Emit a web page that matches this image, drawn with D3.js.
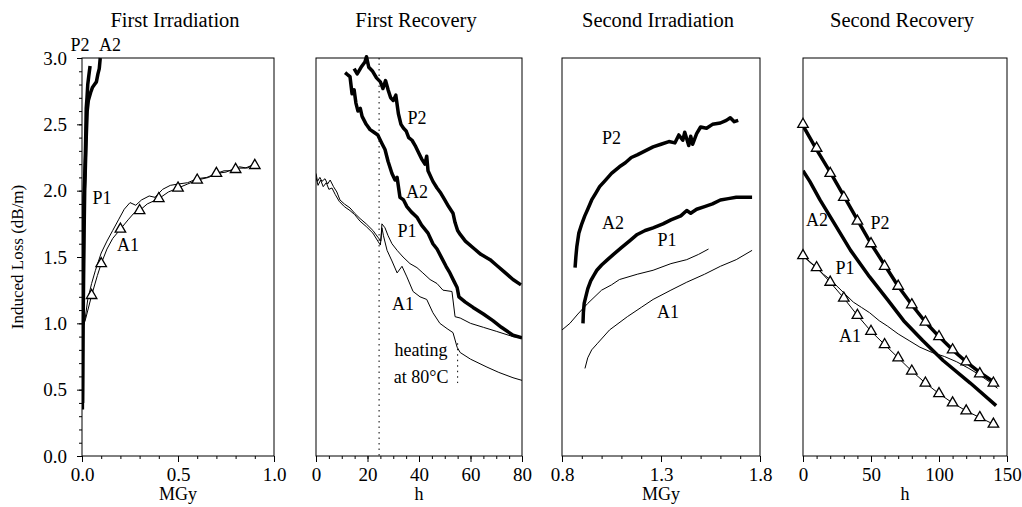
<!DOCTYPE html>
<html>
<head>
<meta charset="utf-8">
<script src="https://cdn.jsdelivr.net/npm/d3@7"></script>
<style>
  body { margin: 0; background: #fff; }
  svg text { font-family: "Liberation Serif", "Times New Roman", serif; fill: #000; }
</style>
</head>
<body>
<div id="chart"></div>
<script>
// induced loss, 4 panels (irradiation / recovery)

const panelTitles = ["First Irradiation", "First Recovery", "Second Irradiation", "Second Recovery"];
const xUnits = ["MGy", "h", "MGy", "h"];
const xDomains = [[0, 1], [0, 80], [0.8, 1.8], [0, 150]];
const xMajorTicks = [[0, 0.5, 1.0], [0, 20, 40, 60, 80], [0.8, 1.3, 1.8], [0, 50, 100, 150]];
const xMinorSteps = [0.1, 5, 0.1, 10];
const yTicks = [0, 0.5, 1.0, 1.5, 2.0, 2.5, 3.0];

// first irradiation (MGy, dB/m)
const fiP2 = [[0.002,0.35],[0.003,0.7],[0.004,1.0],[0.006,1.4],[0.008,1.7],[0.01,1.95],[0.014,2.1],[0.017,2.25],[0.02,2.45],[0.022,2.62],[0.026,2.7],[0.03,2.8],[0.035,2.86],[0.042,2.94]];
const fiA2 = [[0.003,0.4],[0.005,0.9],[0.008,1.3],[0.011,1.7],[0.014,2.0],[0.018,2.2],[0.022,2.4],[0.027,2.6],[0.033,2.68],[0.045,2.74],[0.055,2.78],[0.065,2.8],[0.075,2.82],[0.083,2.88],[0.09,2.92],[0.095,3.0]];
const fiP1 = [[0,0.95],[0.015,1.02],[0.03,1.18],[0.05,1.3],[0.07,1.4],[0.1,1.53],[0.13,1.62],[0.16,1.7],[0.19,1.78],[0.22,1.86],[0.25,1.91],[0.28,1.89],[0.31,1.93],[0.35,1.96],[0.38,1.95],[0.42,2.01],[0.46,2.04],[0.5,2.05],[0.55,2.06],[0.6,2.09],[0.65,2.1],[0.7,2.13],[0.74,2.15],[0.78,2.15],[0.82,2.18],[0.86,2.17],[0.9,2.2]];
const fiA1 = [[0,0.95],[0.02,1.04],[0.05,1.21],[0.08,1.36],[0.1,1.45],[0.13,1.56],[0.16,1.64],[0.2,1.71],[0.24,1.78],[0.27,1.83],[0.3,1.85],[0.34,1.9],[0.4,1.94],[0.45,1.99],[0.5,2.02],[0.55,2.05],[0.6,2.08],[0.66,2.1],[0.7,2.13],[0.75,2.14],[0.8,2.17],[0.85,2.17],[0.9,2.2]];
const fiA1Marks = [[0.05,1.21],[0.1,1.45],[0.2,1.71],[0.3,1.85],[0.4,1.94],[0.5,2.02],[0.6,2.08],[0.7,2.13],[0.8,2.16],[0.9,2.19]];

// first recovery (h, dB/m)
const frP2 = [[14.8,2.92],[16,2.88],[17.5,2.93],[19,2.97],[19.6,3.01],[20.5,2.93],[22,2.9],[23.5,2.85],[25,2.82],[26,2.77],[27,2.83],[28,2.76],[29,2.7],[30,2.68],[31,2.72],[32,2.58],[33,2.5],[34,2.47],[35,2.45],[36,2.4],[37.3,2.38],[38.5,2.34],[40,2.28],[41,2.24],[42.3,2.2],[43,2.26],[43.5,2.15],[45.4,2.07],[47,2.02],[48.5,1.98],[50,1.93],[51.5,1.88],[53.2,1.83],[54,1.76],[55,1.7],[56,1.67],[58,1.62],[61,1.57],[64,1.52],[67.6,1.48],[70,1.44],[73,1.39],[76.5,1.33],[79.6,1.29]];
const frA2 = [[11.3,2.89],[12.5,2.87],[13.2,2.86],[14,2.73],[14.8,2.76],[15.5,2.66],[16.3,2.6],[17.2,2.62],[17.9,2.56],[19.5,2.5],[21,2.46],[22.5,2.44],[24,2.42],[25.5,2.36],[26.8,2.31],[28,2.22],[29.5,2.13],[30.7,2.08],[31.5,2.1],[32.6,1.95],[34,1.93],[35.3,1.88],[37,1.84],[39.2,1.8],[41,1.74],[43.5,1.68],[45.4,1.6],[47,1.56],[48.9,1.49],[50.5,1.43],[52,1.38],[53.5,1.32],[54.8,1.27],[55.5,1.2],[58,1.16],[61,1.12],[65,1.07],[68.7,1.02],[72,0.97],[76.5,0.91],[80,0.89]];
const frP1 = [[0,2.13],[0.6,2.07],[1.5,2.1],[2.3,2.07],[3.5,2.09],[4.5,2.05],[5.5,2.08],[6.8,2.03],[8.1,1.99],[9.3,1.93],[11,1.9],[13.2,1.87],[15,1.83],[17.1,1.79],[19.5,1.75],[22.1,1.7],[24,1.65],[25.2,1.62],[25.6,1.75],[26.8,1.72],[28,1.66],[29.5,1.6],[31.5,1.55],[33.8,1.5],[36.5,1.45],[39.2,1.42],[41.5,1.38],[44.3,1.33],[47,1.3],[49.3,1.25],[52.8,1.24],[54,1.05],[56,1.04],[60,1.0],[65,0.97],[70,0.94],[76.5,0.9],[80,0.89]];
const frA1 = [[0,2.1],[0.8,2.04],[1.8,2.08],[2.8,2.03],[4,2.06],[5,2.01],[6.2,2.02],[7.5,1.97],[9,1.92],[11,1.88],[13.2,1.85],[15,1.82],[17.1,1.77],[19.5,1.73],[22.1,1.68],[24,1.62],[25,1.59],[25.6,1.72],[26.2,1.66],[27.6,1.55],[29.5,1.47],[31.5,1.38],[33.4,1.43],[35.3,1.35],[37.7,1.24],[40.4,1.2],[43,1.18],[45.4,1.08],[48.1,1.0],[50.9,0.96],[53.2,0.93],[54.8,0.82],[56,0.78],[60,0.73],[66.4,0.67],[71,0.63],[76.5,0.59],[80,0.57]];

// second irradiation (MGy, dB/m)
const siP2 = [[0.866,1.42],[0.87,1.5],[0.875,1.58],[0.885,1.68],[0.9,1.75],[0.915,1.81],[0.93,1.86],[0.95,1.93],[0.97,1.98],[0.99,2.03],[1.02,2.08],[1.05,2.13],[1.09,2.18],[1.12,2.21],[1.15,2.25],[1.18,2.27],[1.22,2.3],[1.26,2.33],[1.3,2.35],[1.34,2.37],[1.37,2.36],[1.39,2.42],[1.41,2.38],[1.42,2.44],[1.44,2.34],[1.45,2.41],[1.46,2.35],[1.48,2.43],[1.5,2.48],[1.53,2.47],[1.56,2.5],[1.6,2.51],[1.63,2.53],[1.65,2.55],[1.67,2.52],[1.69,2.53]];
const siA2 = [[0.906,1.0],[0.908,1.08],[0.912,1.15],[0.92,1.2],[0.93,1.26],[0.945,1.32],[0.96,1.36],[0.976,1.4],[1.0,1.44],[1.03,1.48],[1.06,1.52],[1.1,1.57],[1.14,1.62],[1.18,1.67],[1.22,1.7],[1.26,1.72],[1.31,1.75],[1.35,1.78],[1.4,1.81],[1.43,1.85],[1.45,1.83],[1.48,1.86],[1.52,1.88],[1.56,1.9],[1.6,1.93],[1.64,1.94],[1.68,1.95],[1.72,1.95],[1.76,1.95]];
const siP1 = [[0.8,0.95],[0.84,1.0],[0.88,1.07],[0.93,1.15],[1.0,1.25],[1.05,1.29],[1.09,1.33],[1.18,1.37],[1.26,1.4],[1.35,1.45],[1.43,1.48],[1.49,1.52],[1.54,1.56]];
const siA1 = [[0.916,0.66],[0.93,0.74],[0.95,0.8],[0.98,0.85],[1.04,0.95],[1.13,1.05],[1.2,1.12],[1.26,1.18],[1.35,1.25],[1.43,1.31],[1.52,1.37],[1.6,1.43],[1.68,1.48],[1.76,1.55]];

// second recovery (h, dB/m)
const srP2 = [[0,2.49],[5,2.4],[10,2.31],[20,2.14],[30,1.96],[40,1.78],[50,1.6],[60,1.44],[70,1.28],[80,1.14],[90,1.01],[100,0.9],[110,0.8],[120,0.71],[130,0.63],[140,0.56],[142,0.55]];
const srA2 = [[0,2.15],[5,2.07],[12.5,1.93],[25,1.72],[35,1.55],[49,1.35],[62,1.18],[74,1.02],[88,0.87],[103,0.72],[123,0.55],[142,0.38]];
const srP1 = [[0,1.51],[5,1.46],[10,1.42],[15,1.37],[20,1.33],[25,1.28],[31,1.22],[37,1.16],[43,1.12],[49,1.08],[56,1.02],[62,0.98],[70,0.92],[78,0.87],[86,0.82],[95,0.78],[104,0.75],[113,0.71],[122,0.66],[130,0.61],[137,0.56],[143,0.51]];
const srA1 = [[0,1.51],[10,1.42],[20,1.31],[30,1.19],[40,1.06],[50,0.94],[60,0.84],[70,0.74],[80,0.64],[90,0.55],[100,0.47],[110,0.4],[120,0.34],[130,0.29],[140,0.24]];
const srP2Marks = [[0,2.5],[10,2.32],[20,2.13],[30,1.95],[40,1.77],[50,1.6],[60,1.43],[70,1.28],[80,1.14],[90,1.01],[100,0.9],[110,0.8],[120,0.71],[130,0.62],[140,0.55]];
const srA1Marks = srA1;

// curve names and where their tags sit (data coords)
const curveTags = [
  [0, "P2", -0.01, 3.1], [0, "A2", 0.146, 3.1], [0, "P1", 0.104, 1.95], [0, "A1", 0.24, 1.59],
  [1, "P2", 39.2, 2.55], [1, "A2", 39.2, 1.99], [1, "P1", 35.3, 1.7], [1, "A1", 33.8, 1.15],
  [2, "P2", 1.05, 2.4], [2, "A2", 1.058, 1.76], [2, "P1", 1.33, 1.63], [2, "A1", 1.335, 1.085],
  [3, "A2", 10.3, 1.78], [3, "P2", 56.6, 1.76], [3, "P1", 30.9, 1.42], [3, "A1", 34.6, 0.91]
];
const heatingStart = 24.5;   // h, dotted line in first recovery
const heatingEnd = 55;

const width = 1022, height = 507;
const svg = d3.select("#chart").append("svg")
  .attr("width", width).attr("height", height);

const y = d3.scaleLinear().domain([0, 3]).range([456, 58]);
const panelX = [[82, 274], [316, 522], [562, 760], [803, 1007]];

const series = [
  [{d: fiP1, w: 1}, {d: fiA1, w: 1}, {d: fiA2, w: 3.5}, {d: fiP2, w: 3.5}],
  [{d: frP1, w: 1}, {d: frA1, w: 1}, {d: frA2, w: 3.5}, {d: frP2, w: 3.5}],
  [{d: siP1, w: 1}, {d: siA1, w: 1}, {d: siA2, w: 3.5}, {d: siP2, w: 3.5}],
  [{d: srP1, w: 1}, {d: srA1, w: 1}, {d: srA2, w: 3.5}, {d: srP2, w: 3.5}]
];
const markers = [[fiA1Marks], [], [], [srP2Marks, srA1Marks]];

const triangle = d3.symbol().type(d3.symbolTriangle).size(48);

panelTitles.forEach(function(title, i) {
  const x = d3.scaleLinear().domain(xDomains[i]).range(panelX[i]);
  const g = svg.append("g");

  // frame
  g.append("rect")
    .attr("x", panelX[i][0]).attr("y", y(3))
    .attr("width", panelX[i][1] - panelX[i][0]).attr("height", y(0) - y(3))
    .attr("fill", "none").attr("stroke", "#000").attr("stroke-width", 1);

  // x axis, minor then major
  const minor = d3.range(xDomains[i][0], xDomains[i][1] + 1e-9, xMinorSteps[i]);
  g.append("g").attr("transform", `translate(0,${y(0)})`)
    .call(d3.axisBottom(x).tickValues(minor).tickSize(3).tickFormat(""))
    .call(a => a.select(".domain").remove());
  g.append("g").attr("transform", `translate(0,${y(0)})`)
    .call(d3.axisBottom(x).tickValues(xMajorTicks[i]).tickSize(6).tickPadding(6)
      .tickFormat(xUnits[i] === "MGy" ? d3.format(".1f") : d3.format("d")))
    .call(a => a.select(".domain").remove())
    .call(a => a.selectAll("text").attr("font-size", 19).attr("font-family", "Liberation Serif"));

  g.append("text")
    .attr("x", (panelX[i][0] + panelX[i][1]) / 2).attr("y", 500)
    .attr("text-anchor", "middle").attr("font-size", 18)
    .text(xUnits[i]);

  g.append("text")
    .attr("x", (panelX[i][0] + panelX[i][1]) / 2 - 3).attr("y", 27)
    .attr("text-anchor", "middle").attr("font-size", 20.5)
    .text(title);

  const clipId = "clip" + i;
  svg.append("clipPath").attr("id", clipId).append("rect")
    .attr("x", panelX[i][0]).attr("y", y(3) - 4)
    .attr("width", panelX[i][1] - panelX[i][0]).attr("height", y(0) - y(3) + 4);

  const line = d3.line().x(d => x(d[0])).y(d => y(d[1]));
  const plot = g.append("g").attr("clip-path", `url(#${clipId})`);

  if (i === 1) {
    plot.append("line")
      .attr("x1", x(heatingStart)).attr("x2", x(heatingStart))
      .attr("y1", y(3)).attr("y2", y(0))
      .attr("stroke", "#000").attr("stroke-width", 1).attr("stroke-dasharray", "1.5,4");
    plot.append("line")
      .attr("x1", x(heatingEnd)).attr("x2", x(heatingEnd))
      .attr("y1", y(0.85)).attr("y2", y(0.55))
      .attr("stroke", "#000").attr("stroke-width", 1).attr("stroke-dasharray", "1.5,4");
  }

  series[i].forEach(function(s) {
    plot.append("path")
      .attr("d", line(s.d))
      .attr("fill", "none").attr("stroke", "#000")
      .attr("stroke-width", s.w).attr("stroke-linejoin", "round");
  });

  markers[i].forEach(function(m) {
    g.selectAll(null).data(m).join("path")
      .attr("d", triangle)
      .attr("transform", d => `translate(${x(d[0])},${y(d[1])})`)
      .attr("fill", "#fff").attr("stroke", "#000").attr("stroke-width", 1.3);
  });

  curveTags.filter(t => t[0] === i).forEach(function(t) {
    g.append("text")
      .attr("x", x(t[2])).attr("y", y(t[3])).attr("dy", "0.35em")
      .attr("text-anchor", "middle").attr("font-size", 18)
      .text(t[1]);
  });

  if (i === 1) {
    g.append("text").attr("x", x(40.8)).attr("y", y(0.8)).attr("dy", "0.35em")
      .attr("text-anchor", "middle").attr("font-size", 18).text("heating");
    g.append("text").attr("x", x(40.8)).attr("y", y(0.6)).attr("dy", "0.35em")
      .attr("text-anchor", "middle").attr("font-size", 18).text("at 80°C");
  }

  // y axis only on the first panel
  if (i === 0) {
    g.append("g").attr("transform", `translate(${panelX[0][0]},0)`)
      .call(d3.axisLeft(y).tickValues(d3.range(0, 3.0001, 0.1)).tickSize(3).tickFormat(""))
      .call(a => a.select(".domain").remove());
    g.append("g").attr("transform", `translate(${panelX[0][0]},0)`)
      .call(d3.axisLeft(y).tickValues(yTicks).tickSize(5).tickPadding(10).tickFormat(d3.format(".1f")))
      .call(a => a.select(".domain").remove())
      .call(a => a.selectAll("text").attr("font-size", 19).attr("font-family", "Liberation Serif"));
  }
});

svg.append("text")
  .attr("transform", "translate(23,257) rotate(-90)")
  .attr("text-anchor", "middle").attr("font-size", 17)
  .text("Induced Loss (dB/m)");
</script>
</body>
</html>
